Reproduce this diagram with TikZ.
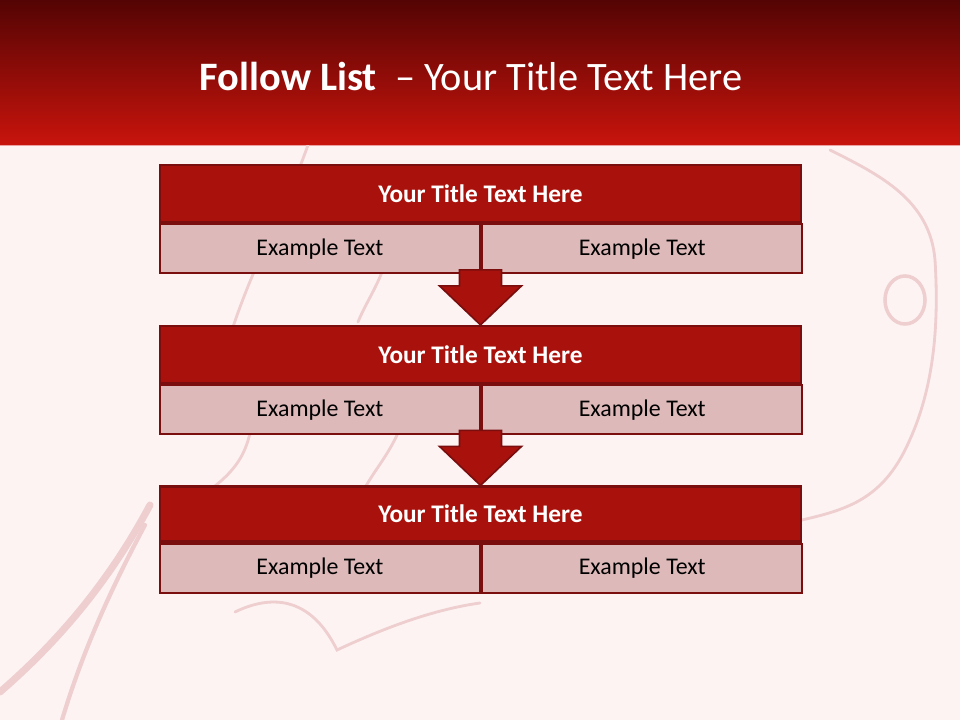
\documentclass[tikz,border=0pt]{standalone}
\usepackage{fontspec}
\setmainfont{Carlito}
\usetikzlibrary{positioning, calc}
\definecolor{slidebg}{RGB}{253,243,243}
\definecolor{headtop}{RGB}{84,4,4}
\definecolor{headbot}{RGB}{200,20,12}
\definecolor{titlered}{RGB}{169,18,12}
\definecolor{edgered}{RGB}{122,14,14}
\definecolor{cellpink}{RGB}{221,185,185}
\definecolor{splash}{RGB}{238,206,206}
\definecolor{headline}{RGB}{236,160,160}

\begin{document}
\begin{tikzpicture}[x=0.025cm, y=-0.025cm,
    titlebox/.style={rectangle, draw=edgered, line width=1.6pt, fill=titlered, text=white, minimum width=16.025cm, minimum height=1.425cm, inner sep=0pt, font=\fontsize{18}{21}\selectfont\bfseries},
    cellbox/.style={rectangle, draw=edgered, line width=1.6pt, fill=cellpink, minimum width=8cm, minimum height=1.225cm, inner sep=0pt, font=\fontsize{17}{20}\selectfont},
    downarrow/.style={draw=edgered, line width=1.2pt, fill=titlered, line join=miter},
    splashline/.style={splash, line width=2pt, line cap=round}
]
    \useasboundingbox (0,0) rectangle (960,720);

    % Slide background and header
    \fill[slidebg] (0,0) rectangle (960,720);
    \shade[top color=headtop, bottom color=headbot] (0,0) rectangle (960,145);
    \draw[headline, line width=0.8pt] (0,145.5) -- (960,145.5);
    \node[font=\fontsize{28.7}{34}\selectfont, text=white] (head) at (471,76) {\textbf{Follow List}\ \ – Your Title Text Here};

    % Splash
    \begin{scope}
    \clip (0,146) rectangle (960,720);
    \draw[splashline, line width=5pt] (0,692) .. controls (60,640) and (110,580) .. (150,505);
    \draw[splashline, line width=3pt] (62,720) .. controls (80,660) and (105,600) .. (145,525);
    \draw[splashline] (308,145) .. controls (285,210) and (255,260) .. (232,330);
    \draw[splashline] (382,272) .. controls (375,290) and (365,305) .. (358,322);
    \draw[splashline] (398,433) .. controls (388,455) and (375,470) .. (366,486);
    \draw[splashline] (250,433) .. controls (245,455) and (235,470) .. (215,486);
    \draw[splashline] (235,612) .. controls (270,595) and (310,595) .. (337,650) .. controls (380,630) and (430,610) .. (480,603);
    \draw[splashline] (830,150) .. controls (880,175) and (930,200) .. (935,260) .. controls (940,340) and (930,400) .. (905,450) .. controls (880,500) and (845,510) .. (802,520);
    \draw[splashline, line width=2.5pt] (905,300) ellipse [x radius=0.5cm, y radius=0.6cm];
    \end{scope}

    % Block 1
    \node[titlebox] (t1) at (480.5,193.5) {Your Title Text Here};
    \node[cellbox, below right=0pt and 0pt of t1.south west] (c1a) {Example Text};
    \node[cellbox, right=0pt of c1a] (c1b) {Example Text};

    % Block 2
    \node[titlebox] (t2) at (480.5,354.5) {Your Title Text Here};
    \node[cellbox, below right=0pt and 0pt of t2.south west] (c2a) {Example Text};
    \node[cellbox, right=0pt of c2a] (c2b) {Example Text};

    % Block 3
    \node[titlebox, minimum height=1.375cm] (t3) at (480.5,514) {Your Title Text Here};
    \node[cellbox, below right=0pt and 0pt of t3.south west] (c3a) {Example Text};
    \node[cellbox, right=0pt of c3a] (c3b) {Example Text};

    % Arrows
    \foreach \tip in {t2,t3}
        \draw[downarrow] (\tip.north) -- ++(-41,-39) -- ++(20,0) -- ++(0,-16) -- ++(42,0) -- ++(0,16) -- ++(20,0) -- cycle;
\end{tikzpicture}
\end{document}
